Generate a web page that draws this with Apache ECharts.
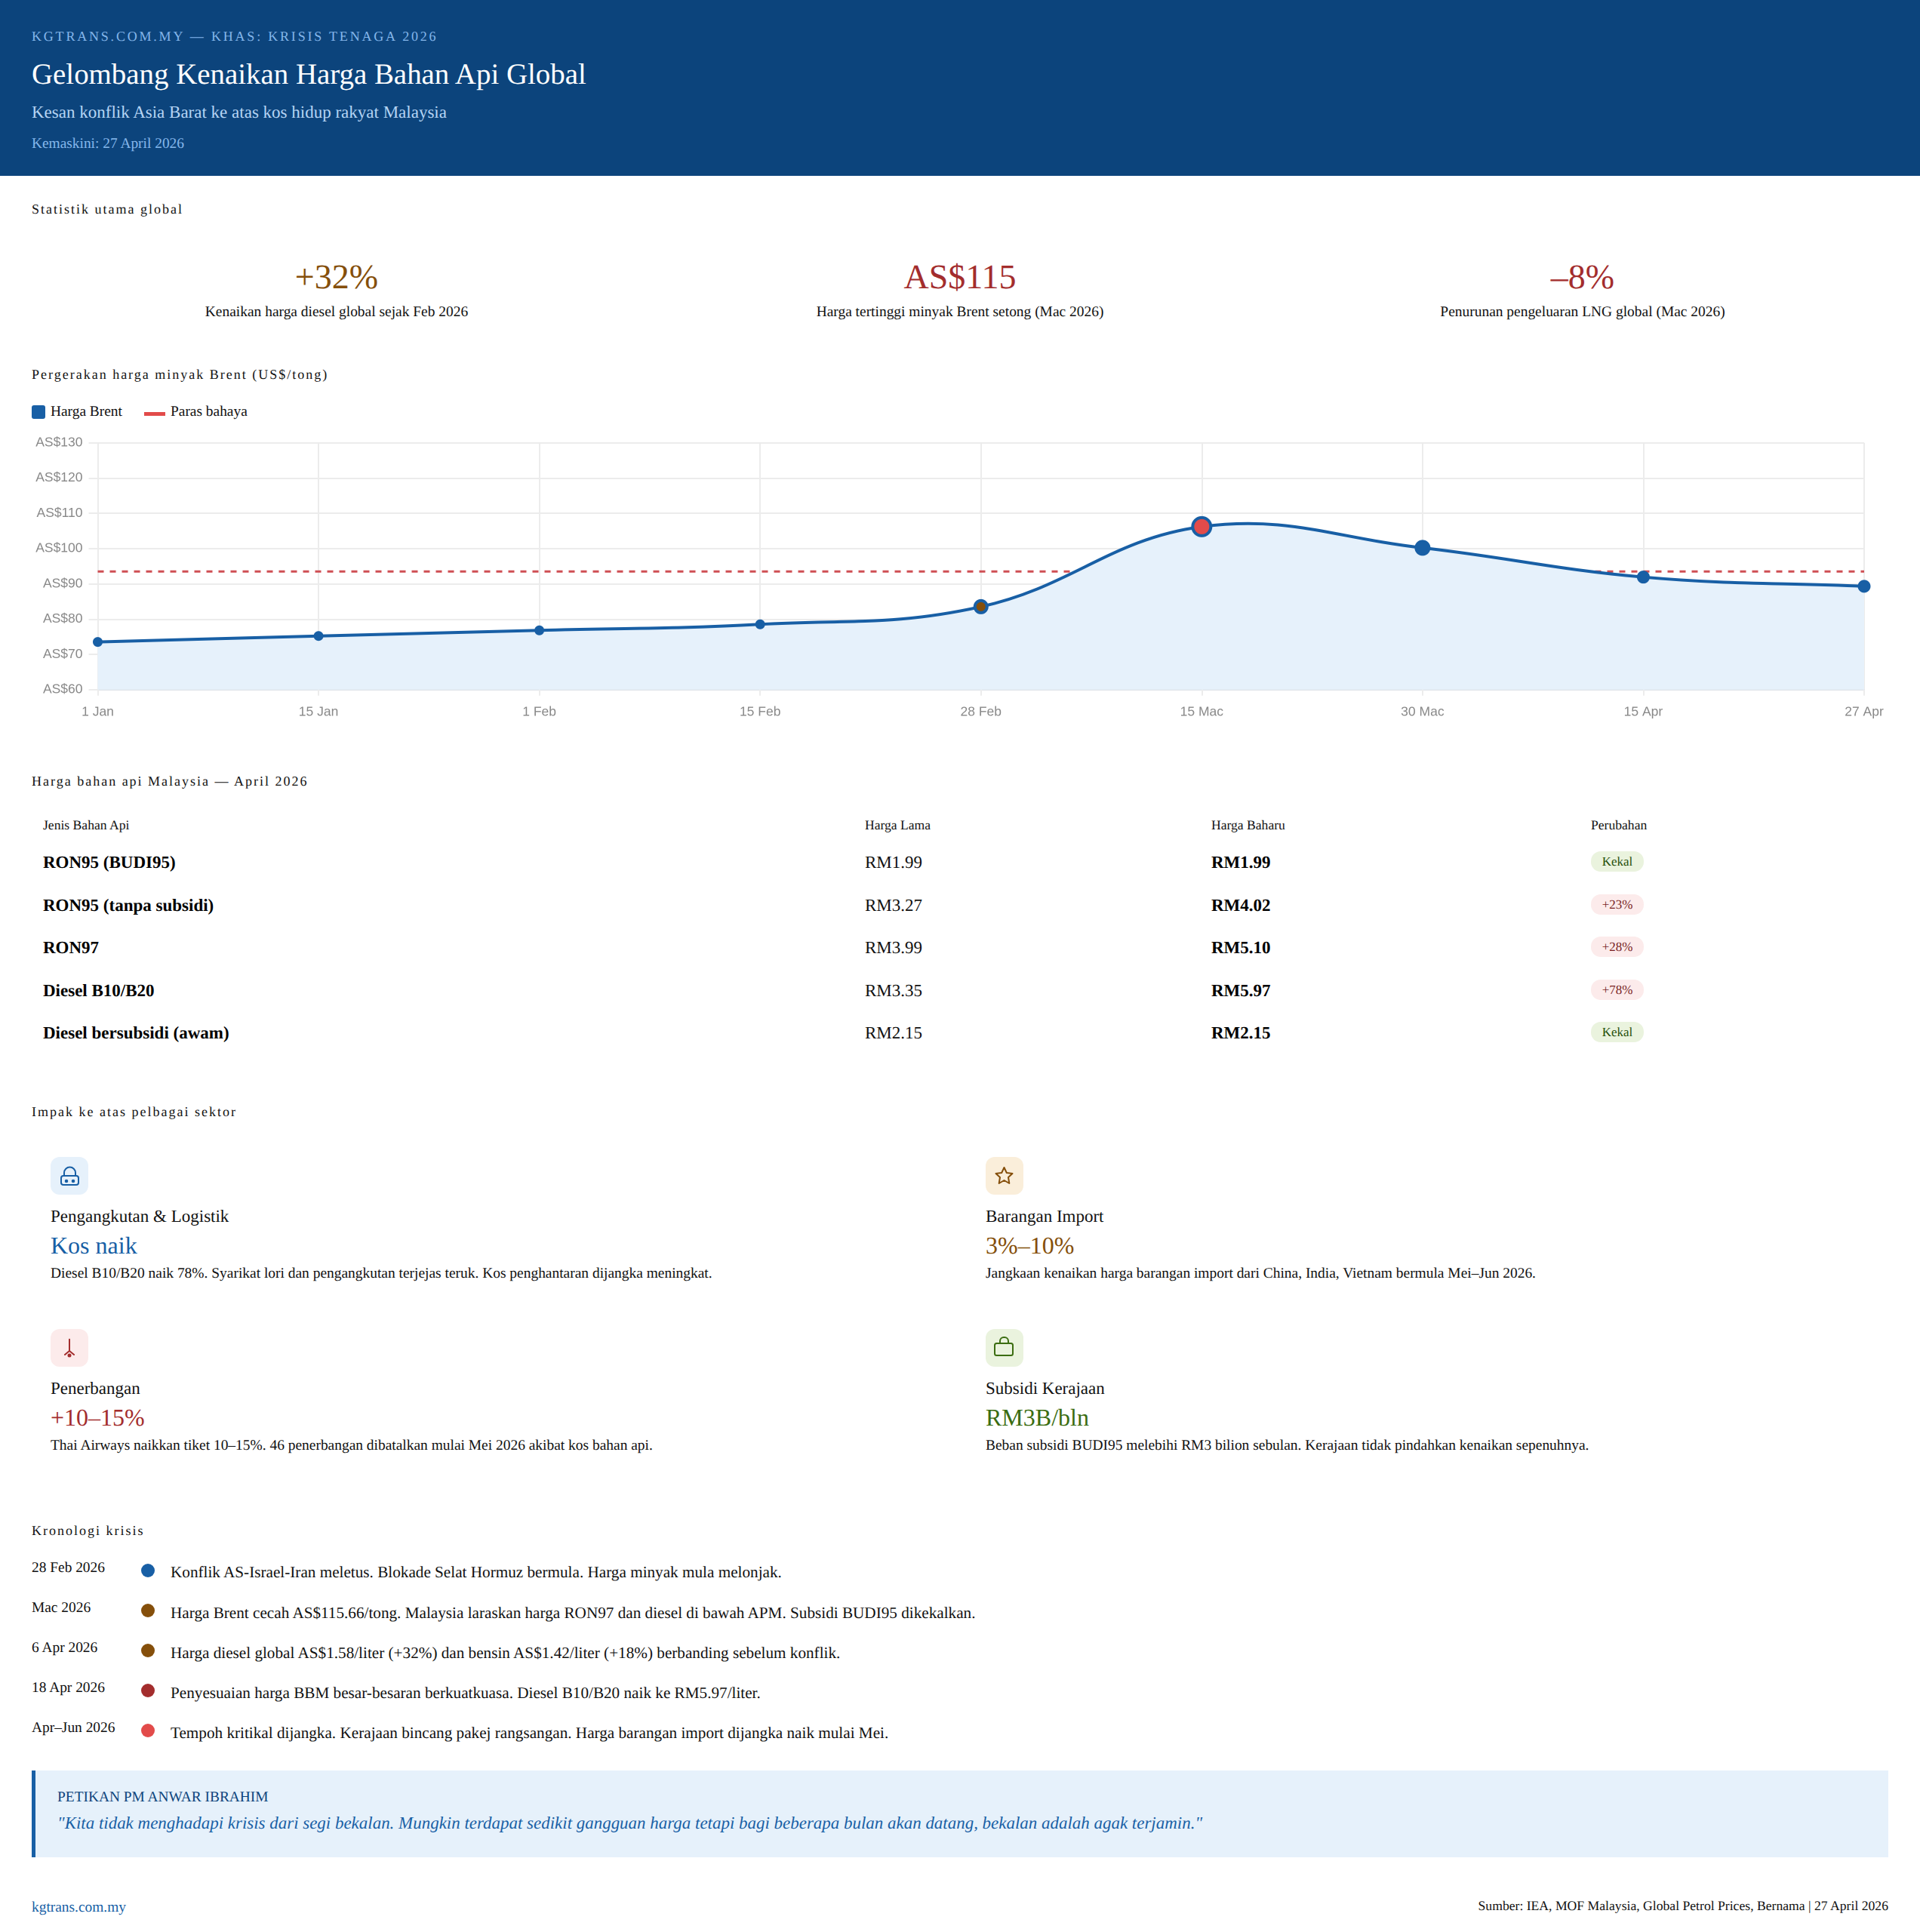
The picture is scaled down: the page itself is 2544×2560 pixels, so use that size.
<!DOCTYPE html>
<html>
<head>
<meta charset="utf-8">
<title>Gelombang Kenaikan Harga Bahan Api Global</title>
<script src="https://cdn.jsdelivr.net/npm/echarts@6/dist/echarts.min.js"></script>
<style>
html, body { margin: 0; padding: 0; background: #fff; }
body { position: relative; width: 2544px; height: 2560px; overflow: hidden; font-family: "Liberation Serif", serif; color: #111; text-rendering: geometricPrecision; }
.t { position: absolute; white-space: nowrap; line-height: 1; }
.box { position: absolute; }
#chart { position: absolute; left: 0; top: 560px; width: 2544px; height: 420px; }
</style>
</head>
<body>
<div class="box" style="left:0;top:0;width:2544px;height:233px;background:#0C447C"></div>
<div class="box" style="left:42px;top:537px;width:18px;height:18px;border-radius:3px;background:#185FA5"></div>
<div class="box" style="left:191px;top:546px;width:28px;height:5px;background:#E24B4A"></div>
<div class="box" style="left:42px;top:2346px;width:2460px;height:115px;background:#E6F1FB"></div>
<div class="box" style="left:42px;top:2346px;width:5px;height:115px;background:#185FA5"></div>
<div id="chart"></div>

<script>
// chart data
const dateLabels = ['1 Jan', '15 Jan', '1 Feb', '15 Feb', '28 Feb', '15 Mac', '30 Mac', '15 Apr', '27 Apr'];
const brentPrices = [73.5, 75.2, 76.8, 78.5, 83.5, 106.2, 100.2, 91.9, 89.3];
const dangerLevel = [93.5, 93.5, 93.5, 93.5, 93.5, 93.5, 93.5, 93.5, 93.5];
const markerSizes = [9, 9, 9, 9, 16, 24, 17, 13, 13];
const markerFills = ['#185FA5', '#185FA5', '#185FA5', '#185FA5', '#854F0B', '#E24B4A', '#185FA5', '#185FA5', '#185FA5'];

// table
const fuelNames = ['RON95 (BUDI95)', 'RON95 (tanpa subsidi)', 'RON97', 'Diesel B10/B20', 'Diesel bersubsidi (awam)'];
const oldPrices = ['RM1.99', 'RM3.27', 'RM3.99', 'RM3.35', 'RM2.15'];
const newPrices = ['RM1.99', 'RM4.02', 'RM5.10', 'RM5.97', 'RM2.15'];
const priceChanges = ['Kekal', '+23%', '+28%', '+78%', 'Kekal'];

// stats, sectors, timeline
const statValues = ['+32%', 'AS$115', '–8%'];
const statLabels = ['Kenaikan harga diesel global sejak Feb 2026', 'Harga tertinggi minyak Brent setong (Mac 2026)', 'Penurunan pengeluaran LNG global (Mac 2026)'];
const sectorNames = ['Pengangkutan & Logistik', 'Barangan Import', 'Penerbangan', 'Subsidi Kerajaan'];
const sectorValues = ['Kos naik', '3%–10%', '+10–15%', 'RM3B/bln'];
const sectorNotes = [
    'Diesel B10/B20 naik 78%. Syarikat lori dan pengangkutan terjejas teruk. Kos penghantaran dijangka meningkat.',
    'Jangkaan kenaikan harga barangan import dari China, India, Vietnam bermula Mei–Jun 2026.',
    'Thai Airways naikkan tiket 10–15%. 46 penerbangan dibatalkan mulai Mei 2026 akibat kos bahan api.',
    'Beban subsidi BUDI95 melebihi RM3 bilion sebulan. Kerajaan tidak pindahkan kenaikan sepenuhnya.'
];
const timelineDates = ['28 Feb 2026', 'Mac 2026', '6 Apr 2026', '18 Apr 2026', 'Apr–Jun 2026'];
const timelineNotes = [
    'Konflik AS-Israel-Iran meletus. Blokade Selat Hormuz bermula. Harga minyak mula melonjak.',
    'Harga Brent cecah AS$115.66/tong. Malaysia laraskan harga RON97 dan diesel di bawah APM. Subsidi BUDI95 dikekalkan.',
    'Harga diesel global AS$1.58/liter (+32%) dan bensin AS$1.42/liter (+18%) berbanding sebelum konflik.',
    'Penyesuaian harga BBM besar-besaran berkuatkuasa. Diesel B10/B20 naik ke RM5.97/liter.',
    'Tempoh kritikal dijangka. Kerajaan bincang pakej rangsangan. Harga barangan import dijangka naik mulai Mei.'
];
const timelineColors = ['#185FA5', '#854F0B', '#854F0B', '#A32D2D', '#E24B4A'];

// y is the vertical middle of the text
function put (text, x, y, size, color, extra) {
    const el = document.createElement('div');
    el.className = 't';
    el.textContent = text;
    el.style.cssText = 'left:' + x + 'px;top:' + (y - size / 2) + 'px;font-size:' + size + 'px;color:' + (color || '#111') + ';' + (extra || '');
    document.body.appendChild(el);
    return el;
}
function putCentred (text, cx, y, size, color) {
    put(text, cx - 400, y, size, color, 'width:800px;text-align:center;');
}
function section (text, y) {
    put(text, 42, y, 18, '#111', 'letter-spacing:2px;');
}

// header
put('KGTRANS.COM.MY — KHAS: KRISIS TENAGA 2026', 42, 48, 18, '#85B7EB', 'letter-spacing:2.8px;');
put('Gelombang Kenaikan Harga Bahan Api Global', 42, 99, 38.9, '#fff');
put('Kesan konflik Asia Barat ke atas kos hidup rakyat Malaysia', 42, 148.5, 23, '#B5D4F4');
put('Kemaskini: 27 April 2026', 42, 191, 19.4, '#85B7EB');

// stats
section('Statistik utama global', 277);
const statCentres = [446, 1272, 2097];
const statColors = ['#854F0B', '#A32D2D', '#A32D2D'];
statValues.forEach((v, i) => {
    putCentred(v, statCentres[i], 367, 46, statColors[i]);
    putCentred(statLabels[i], statCentres[i], 414, 19.45, '#111');
});

// chart heading + legend
section('Pergerakan harga minyak Brent (US$/tong)', 496);
put('Harga Brent', 67, 546, 19.4);
put('Paras bahaya', 226, 546, 19.4);

// table
section('Harga bahan api Malaysia — April 2026', 1035);
const colX = [57, 1146, 1605, 2108];
['Jenis Bahan Api', 'Harga Lama', 'Harga Baharu', 'Perubahan'].forEach((h, i) => put(h, colX[i], 1093.5, 17.6));
fuelNames.forEach((name, i) => {
    const y = 1142.5 + i * 56.5;
    put(name, colX[0], y, 23, '#000', 'font-weight:bold;');
    put(oldPrices[i], colX[1], y, 23);
    put(newPrices[i], colX[2], y, 23, '#000', 'font-weight:bold;');
    const same = priceChanges[i] === 'Kekal';
    const badge = put(priceChanges[i], colX[3], y - 1, 17, same ? '#27500A' : '#791F1F',
        'width:70px;text-align:center;background:' + (same ? '#EAF3DE' : '#FCEBEB') + ';border-radius:13px;height:27px;line-height:27px;');
    badge.style.top = (y - 14.5) + 'px';
});

// sectors
section('Impak ke atas pelbagai sektor', 1473);
const sectorX = [67, 1306, 67, 1306];
const sectorY = [1533, 1533, 1761, 1761];
const sectorColors = ['#185FA5', '#854F0B', '#A32D2D', '#3B6D11'];
const sectorTints = ['#E6F1FB', '#FAEEDA', '#FCEBEB', '#EAF3DE'];
const sectorIcons = [
    '<rect x="14" y="25" width="23" height="12" rx="3"/><path d="M18 25v-4a7.5 7.5 0 0 1 15 0v4"/><circle cx="21" cy="32" r="1.3" fill="#185FA5"/><circle cx="30" cy="32" r="1.3" fill="#185FA5"/>',
    '<path d="M24.5 14l3.3 7 7.7 1-5.5 5 1.3 8-6.800-4-6.800 4 1.300-8-5.500-5 7.700-1z"/>',
    '<path d="M25 13.700v15.300M25 29l-6 5M25 29l6 5"/><circle cx="25" cy="35" r="1.500" fill="#A32D2D"/>',
    '<rect x="12" y="19" width="24" height="16" rx="2.500"/><path d="M19 19v-3a5 5 0 0 1 5-5h1a5 5 0 0 1 5 5v3"/>'
];
sectorNames.forEach((name, i) => {
    const x = sectorX[i];
    const y = sectorY[i];
    const icon = document.createElement('div');
    icon.className = 'box';
    icon.style.cssText = 'left:' + x + 'px;top:' + y + 'px;width:50px;height:50px;border-radius:12px;background:' + sectorTints[i];
    icon.innerHTML = '<svg width="50" height="50" fill="none" stroke-width="2" stroke-linejoin="round" stroke-linecap="round" stroke="' + sectorColors[i] + '">' + sectorIcons[i] + '</svg>';
    document.body.appendChild(icon);
    put(name, x, y + 78, 23);
    put(sectorValues[i], x, y + 117, 32, sectorColors[i]);
    put(sectorNotes[i], x, y + 155, 19.45);
});

// timeline
section('Kronologi krisis', 2028);
timelineDates.forEach((d, i) => {
    const y = 2077.5 + i * 53.1;
    put(d, 42, y, 19.4);
    const dot = document.createElement('div');
    dot.className = 'box';
    dot.style.cssText = 'left:187px;top:' + (y - 5.5) + 'px;width:18px;height:18px;border-radius:50%;background:' + timelineColors[i];
    document.body.appendChild(dot);
    put(timelineNotes[i], 226, y + 6.5, 21.2);
});

// quote + footer
put('PETIKAN PM ANWAR IBRAHIM', 76, 2382, 19.4, '#0C447C');
put('"Kita tidak menghadapi krisis dari segi bekalan. Mungkin terdapat sedikit gangguan harga tetapi bagi beberapa bulan akan datang, bekalan adalah agak terjamin."', 76, 2416.5, 22.96, '#185FA5', 'font-style:italic;');
put('kgtrans.com.my', 42, 2528, 19.4, '#185FA5');
put('Sumber: IEA, MOF Malaysia, Global Petrol Prices, Bernama | 27 April 2026', 1502, 2526, 17.65, '#111', 'width:1000px;text-align:right;');

// same spline as the source curve (tension 0.4, no clamping), built on axis coords
function splinePath (api) {
    const pts = brentPrices.map((v, i) => api.coord([i, v]));
    const tension = 0.4;
    const cps = pts.map((p, i) => {
        const prev = pts[i - 1] || p;
        const next = pts[i + 1] || p;
        const d01 = Math.hypot(p[0] - prev[0], p[1] - prev[1]);
        const d12 = Math.hypot(next[0] - p[0], next[1] - p[1]);
        const fa = tension * d01 / (d01 + d12);
        const fb = tension * d12 / (d01 + d12);
        return {
            inX: p[0] - fa * (next[0] - prev[0]),
            inY: p[1] - fa * (next[1] - prev[1]),
            outX: p[0] + fb * (next[0] - prev[0]),
            outY: p[1] + fb * (next[1] - prev[1])
        };
    });
    let d = 'M' + pts[0][0] + ' ' + pts[0][1];
    for (let i = 1; i < pts.length; i++) {
        d += 'C' + cps[i - 1].outX + ' ' + cps[i - 1].outY + ' ' + cps[i].inX + ' ' + cps[i].inY + ' ' + pts[i][0] + ' ' + pts[i][1];
    }
    return { d: d, first: pts[0], last: pts[pts.length - 1] };
}

const myChart = echarts.init(document.getElementById('chart'), null, { devicePixelRatio: 2 });
const axisText = { color: '#888', fontSize: 17.5, fontFamily: 'Liberation Sans' };
const gridLine = { show: true, lineStyle: { color: '#ececec', width: 2 } };
myChart.setOption({
    animation: false,
    grid: { left: 129.5, top: 26.7, width: 2340.5, height: 327 },
    xAxis: {
        type: 'category',
        data: dateLabels,
        boundaryGap: false,
        axisLine: { lineStyle: { color: '#dfe3e8', width: 2 } },
        axisTick: { show: true, length: 8, lineStyle: { color: '#ececec', width: 2 } },
        axisLabel: Object.assign({ margin: 21, interval: 0 }, axisText),
        splitLine: gridLine
    },
    yAxis: {
        type: 'value',
        min: 60,
        max: 130,
        interval: 10,
        axisLine: { show: true, lineStyle: { color: '#ececec', width: 2 } },
        axisTick: { show: true, length: 12, lineStyle: { color: '#ececec', width: 2 } },
        axisLabel: Object.assign({ margin: 20, formatter: 'AS${value}' }, axisText),
        splitLine: gridLine
    },
    series: [
        {
            name: 'Paras bahaya',
            type: 'line',
            data: dangerLevel,
            symbol: 'none',
            z: 2,
            lineStyle: { color: '#cf4f54', width: 3, type: [8, 8] }
        },
        {
            name: 'Kawasan Brent',
            type: 'custom',
            data: [[0, brentPrices[0]]],
            z: 3,
            renderItem (params, api) {
                const s = splinePath(api);
                const base = api.coord([0, 60])[1];
                return {
                    type: 'group',
                    children: [
                        {
                            type: 'path',
                            shape: { pathData: s.d + 'L' + s.last[0] + ' ' + base + 'L' + s.first[0] + ' ' + base + 'Z' },
                            style: { fill: '#E6F1FB', stroke: null }
                        },
                        {
                            type: 'path',
                            shape: { pathData: s.d },
                            style: { fill: null, stroke: '#185FA5', lineWidth: 4 }
                        }
                    ]
                };
            }
        },
        {
            name: 'Harga Brent',
            type: 'line',
            data: brentPrices,
            z: 4,
            showSymbol: true,
            showAllSymbol: true,
            symbol: 'circle',
            symbolSize: (value, params) => markerSizes[params.dataIndex],
            lineStyle: { opacity: 0 },
            itemStyle: {
                color: (params) => markerFills[params.dataIndex],
                borderColor: '#185FA5',
                borderWidth: 4
            }
        }
    ]
});
</script>
</body>
</html>
